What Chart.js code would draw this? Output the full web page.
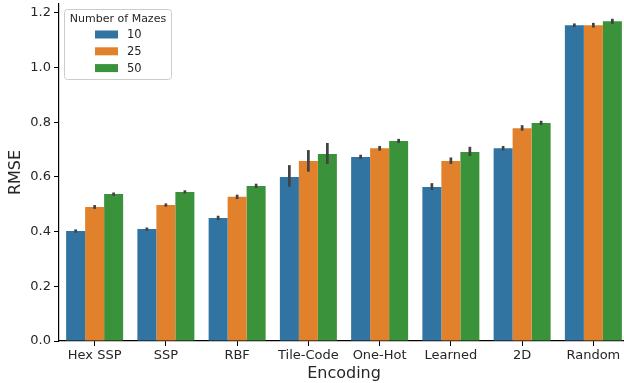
<!DOCTYPE html>
<html>
<head>
<meta charset="utf-8">
<script src="https://cdn.jsdelivr.net/npm/chart.js@4/dist/chart.umd.min.js"></script>
<style>
  html, body { margin: 0; padding: 0; background: #fff; overflow: hidden; }
  #wrap { width: 624px; height: 383px; overflow: hidden; position: relative; }
  #box { width: 629px; height: 383px; position: absolute; left: 0; top: 0; }
</style>
</head>
<body>
<div id="wrap"><div id="box"><canvas id="c"></canvas></div></div>
<script>
const categories = ['Hex SSP', 'SSP', 'RBF', 'Tile-Code', 'One-Hot', 'Learned', '2D', 'Random'];
const seriesNames = ['10', '25', '50'];
const rmse10 = [0.402, 0.409, 0.450, 0.600, 0.673, 0.563, 0.705, 1.154];
const rmse25 = [0.490, 0.497, 0.527, 0.658, 0.705, 0.658, 0.778, 1.154];
const rmse50 = [0.537, 0.545, 0.567, 0.684, 0.731, 0.691, 0.797, 1.169];
const ciLow10  = [0.396, 0.403, 0.442, 0.564, 0.665, 0.552, 0.697, 1.148];
const ciHigh10 = [0.408, 0.415, 0.458, 0.643, 0.681, 0.577, 0.713, 1.161];
const ciLow25  = [0.483, 0.491, 0.519, 0.619, 0.696, 0.647, 0.769, 1.146];
const ciHigh25 = [0.497, 0.503, 0.535, 0.698, 0.713, 0.671, 0.789, 1.163];
const ciLow50  = [0.531, 0.539, 0.559, 0.647, 0.724, 0.676, 0.790, 1.159];
const ciHigh50 = [0.543, 0.551, 0.575, 0.724, 0.739, 0.710, 0.805, 1.178];
const yTickValues = [0.0, 0.2, 0.4, 0.6, 0.8, 1.0, 1.2];

const colors = ['#3274a1', '#e1812c', '#3a923a'];
const values = [rmse10, rmse25, rmse50];
const lows = [ciLow10, ciLow25, ciLow50];
const highs = [ciHigh10, ciHigh25, ciHigh50];
const FONT = "'DejaVu Sans', sans-serif";

const errorBars = {
  id: 'errorBars',
  afterDatasetsDraw(chart) {
    const ctx = chart.ctx, y = chart.scales.y;
    ctx.save();
    ctx.strokeStyle = '#424242';
    ctx.lineWidth = 2.7;
    ctx.lineCap = 'butt';
    chart.data.datasets.forEach((ds, i) => {
      const meta = chart.getDatasetMeta(i);
      meta.data.forEach((bar, j) => {
        ctx.beginPath();
        ctx.moveTo(bar.x, y.getPixelForValue(lows[i][j]));
        ctx.lineTo(bar.x, y.getPixelForValue(highs[i][j]));
        ctx.stroke();
      });
    });
    ctx.restore();
  }
};

const legendBox = {
  id: 'legendBox',
  afterDraw(chart) {
    const ctx = chart.ctx;
    const x0 = 64.5, y0 = 9.5, w = 107, h = 70, r = 3;
    ctx.save();
    ctx.fillStyle = 'rgba(255,255,255,0.8)';
    ctx.strokeStyle = '#cccccc';
    ctx.lineWidth = 1;
    ctx.beginPath();
    ctx.roundRect(x0, y0, w, h, r);
    ctx.fill();
    ctx.stroke();
    ctx.fillStyle = '#262626';
    ctx.font = '11px ' + FONT;
    ctx.textAlign = 'center';
    ctx.textBaseline = 'middle';
    ctx.fillText('Number of Mazes', x0 + w / 2, 19.5);
    chart.data.datasets.forEach((ds, i) => {
      const cy = 34.5 + i * 16.8;
      ctx.fillStyle = ds.backgroundColor;
      ctx.fillRect(95, cy - 4, 23, 8);
      ctx.fillStyle = '#262626';
      ctx.textAlign = 'left';
      ctx.font = '11.5px ' + FONT;
      ctx.fillText(ds.label, 127, cy + 0.5);
    });
    ctx.restore();
  }
};

new Chart(document.getElementById('c'), {
  type: 'bar',
  data: {
    labels: categories,
    datasets: seriesNames.map((s, i) => ({
      label: s,
      data: values[i],
      backgroundColor: colors[i],
      borderWidth: 0,
      categoryPercentage: 0.8,
      barPercentage: 1.0
    }))
  },
  options: {
    responsive: true,
    maintainAspectRatio: false,
    animation: false,
    layout: { padding: { top: 4, right: 0, left: 0, bottom: 0 } },
    plugins: { legend: { display: false }, tooltip: { enabled: false } },
    scales: {
      x: {
        offset: true,
        grid: { display: true, drawOnChartArea: false, offset: false, color: '#000', tickLength: 5, tickWidth: 1 },
        border: { display: true, color: '#000', width: 1.2 },
        ticks: { color: '#262626', font: { family: FONT, size: 13 }, padding: 2, maxRotation: 0 },
        title: { display: true, text: 'Encoding', color: '#262626', font: { family: FONT, size: 16 }, padding: { top: 0, bottom: 0 } },
        afterFit(s) { s.height = 42; s.paddingLeft = 0; s.paddingRight = 0; }
      },
      y: {
        min: 0,
        max: 1.232,
        afterBuildTicks(s) { s.ticks = yTickValues.map(v => ({ value: v })); },
        grid: { display: true, drawOnChartArea: false, color: '#000', tickLength: 5, tickWidth: 1 },
        border: { display: true, color: '#000', width: 1.2 },
        ticks: { color: '#262626', font: { family: FONT, size: 13 }, padding: 3, callback: v => v.toFixed(1) },
        title: { display: true, text: 'RMSE', color: '#262626', font: { family: FONT, size: 16 }, padding: { top: 6, bottom: 0 } },
        afterFit(s) { s.width = 59; s.paddingTop = 0; s.paddingBottom = 0; }
      }
    }
  },
  plugins: [errorBars, legendBox]
});
</script>
</body>
</html>
